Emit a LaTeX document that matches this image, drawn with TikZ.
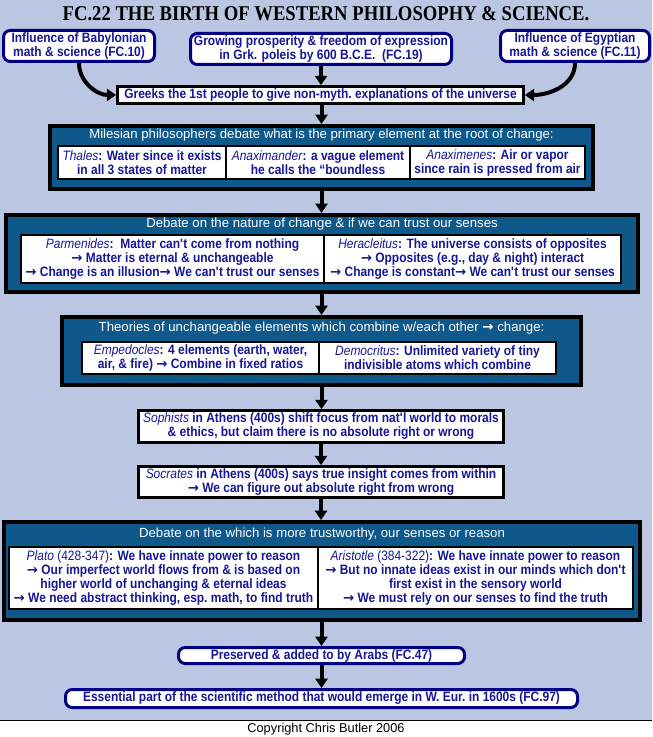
\documentclass[tikz,border=0pt]{standalone}
\usepackage{fontspec}
\setmainfont{Liberation Sans}[FakeStretch=0.88]
\newfontfamily\tfont{Liberation Sans}
\newfontfamily\titlefont{Liberation Serif}
\newfontfamily\arrowfont{DejaVu Sans}
\usetikzlibrary{arrows.meta}
\definecolor{bgblue}{RGB}{187,198,226}
\definecolor{darkbox}{RGB}{14,88,138}
\definecolor{navyline}{RGB}{0,0,128}
\definecolor{txtblue}{RGB}{22,22,150}
\newcommand{\ap}{\textquotesingle}
\newcommand{\ra}{{\arrowfont\bfseries\fontsize{10}{10}\selectfont →}}
\newcommand{\nm}[1]{\textit{\mdseries #1}}
\tikzset{
  wh/.style 2 args={minimum width=#1*0.75pt, minimum height=#2*0.75pt},
  bodyfont/.style={font=\fontsize{10.2}{10.5}\selectfont\bfseries},
  rbox/.style={draw=navyline, line width=2.25pt, rounded corners=5pt, fill=white, text=txtblue, bodyfont, align=center, inner sep=0pt},
  sbox/.style={draw=black, line width=2pt, fill=white, text=txtblue, bodyfont, align=center, inner sep=0pt},
  outerbox/.style={draw=black, line width=3pt, fill=darkbox, inner sep=0pt},
  cell/.style={draw=black, line width=1.5pt, fill=white, text=txtblue, bodyfont, align=center, inner sep=0pt},
  otitle/.style={text=white, font=\tfont\fontsize{9.9}{10.5}\selectfont, inner sep=0pt},
  arr/.style={line width=3pt, -{Triangle[width=9pt,length=7pt]}}
}
\begin{document}
\begin{tikzpicture}[x=0.75pt,y=-0.75pt]
\useasboundingbox (0,0) rectangle (652,737);
\fill[white] (0,0) rectangle (652,737);
\fill[bgblue] (0,0) rectangle (652,720);
\draw[line width=0.75pt] (0,720) -- (652,720);

\node[inner sep=0pt] (title) at (326,14) {\resizebox{395pt}{10.5pt}{\titlefont\bfseries FC.22 THE BIRTH OF WESTERN PHILOSOPHY \& SCIENCE.}};

\node[rbox, wh={151}{31}] (bab) at (79,46) {Influence of Babylonian\\math \& science (FC.10)};
\node[rbox, wh={261}{31}] (grow) at (321,49) {Growing prosperity \& freedom of expression\\in Grk. poleis by 600 B.C.E.\ \ (FC.19)};
\node[rbox, wh={149}{31}] (egy) at (575,46) {Influence of Egyptian\\math \& science (FC.11)};
\node[sbox, wh={406}{17}] (greeks) at (320.5,95) {Greeks the 1st people to give non-myth.\ explanations of the universe};

\node[outerbox, wh={543}{63}] (mil) at (321.5,157.5) {};
\node[otitle] (miltitle) at (321.5,135) {Milesian philosophers debate what is the primary element at the root of change:};
\node[cell, wh={168}{33}] (thales) at (142,163) {\nm{Thales}: Water since it exists\\in all 3 states of matter};
\node[cell, wh={184}{33}] (anaxd) at (318,163) {\nm{Anaximander}: a vague element\\he calls the “boundless};
\node[cell, wh={175}{33}] (anaxn) at (497.5,163) {\nm{Anaximenes}: Air or vapor\\since rain is pressed from air};

\node[outerbox, wh={632}{77}] (deb1) at (322,253.5) {};
\node[otitle] (deb1title) at (322,224) {Debate on the nature of change \& if we can trust our senses};
\node[cell, wh={303}{48}] (parm) at (172.5,259) {\nm{Parmenides}:\ \ Matter can\ap t come from nothing\\\ra{} Matter is eternal \& unchangeable\\\ra{} Change is an illusion\ra{} We can\ap t trust our senses};
\node[cell, wh={297}{48}] (herac) at (472.5,259) {\nm{Heracleitus}: The universe consists of opposites\\\ra{} Opposites (e.g., day \& night) interact\\\ra{} Change is constant\ra{} We can\ap t trust our senses};

\node[outerbox, wh={519}{68}] (theo) at (321.5,351) {};
\node[otitle] (theotitle) at (321.5,328) {Theories of unchangeable elements which combine w/each other \ra{} change:};
\node[cell, wh={237}{32}] (emped) at (200.5,358) {\nm{Empedocles}: 4 elements (earth, water,\\air, \& fire) \ra{} Combine in fixed ratios};
\node[cell, wh={237}{32}] (democ) at (437.5,358) {\nm{Democritus}: Unlimited variety of tiny\\indivisible atoms which combine};

\node[sbox, wh={365}{32}] (soph) at (321,426.5) {\nm{Sophists} in Athens (400s) shift focus from nat\ap l world to morals\\\& ethics, but claim there is no absolute right or wrong};
\node[sbox, wh={365}{31}] (socr) at (321,482) {\nm{Socrates} in Athens (400s) says true insight comes from within\\\ra{} We can figure out absolute right from wrong};

\node[outerbox, wh={636}{98}] (deb2) at (322,571) {};
\node[otitle] (deb2title) at (322,534) {Debate on the which is more trustworthy, our senses or reason};
\node[cell, wh={309}{62}] (plato) at (163.5,578) {\nm{Plato} {\mdseries (428-347)}: We have innate power to reason\\\ra{} Our imperfect world flows from \& is based on\\higher world of unchanging \& eternal ideas\\\ra{} We need abstract thinking, esp.\ math, to find truth};
\node[cell, wh={315}{62}] (arist) at (475.5,578) {\nm{Aristotle} {\mdseries (384-322)}: We have innate power to reason\\\ra{} But no innate ideas exist in our minds which don\ap t\\first exist in the sensory world\\\ra{} We must rely on our senses to find the truth};

\node[rbox, wh={286}{16}] (pres) at (321.5,655.5) {Preserved \& added to by Arabs (FC.47)};
\node[rbox, wh={512}{18}] (ess) at (321.5,698.5) {Essential part of the scientific method that would emerge in W.\ Eur.\ in 1600s (FC.97)};

\node[inner sep=0pt, font=\tfont\fontsize{9.6}{10}\selectfont] (copy) at (326,729) {Copyright Chris Butler 2006};

\draw[arr] (bab.south) to[out=-90,in=180] (greeks.west);
\draw[arr] (egy.south) to[out=-90,in=0] (greeks.east);
\draw[arr] (grow.south) -- (grow.south |- greeks.north);
\draw[arr] (greeks.south -| mil.north) -- (mil.north);
\draw[arr] (mil.south) -- (mil.south |- deb1.north);
\draw[arr] (deb1.south -| theo.north) -- (theo.north);
\draw[arr] (theo.south) -- (theo.south |- soph.north);
\draw[arr] (soph.south) -- (socr.north);
\draw[arr] (socr.south) -- (socr.south |- deb2.north);
\draw[arr] (deb2.south -| pres.north) -- (pres.north);
\draw[arr] (pres.south) -- (ess.north);
\end{tikzpicture}
\end{document}
